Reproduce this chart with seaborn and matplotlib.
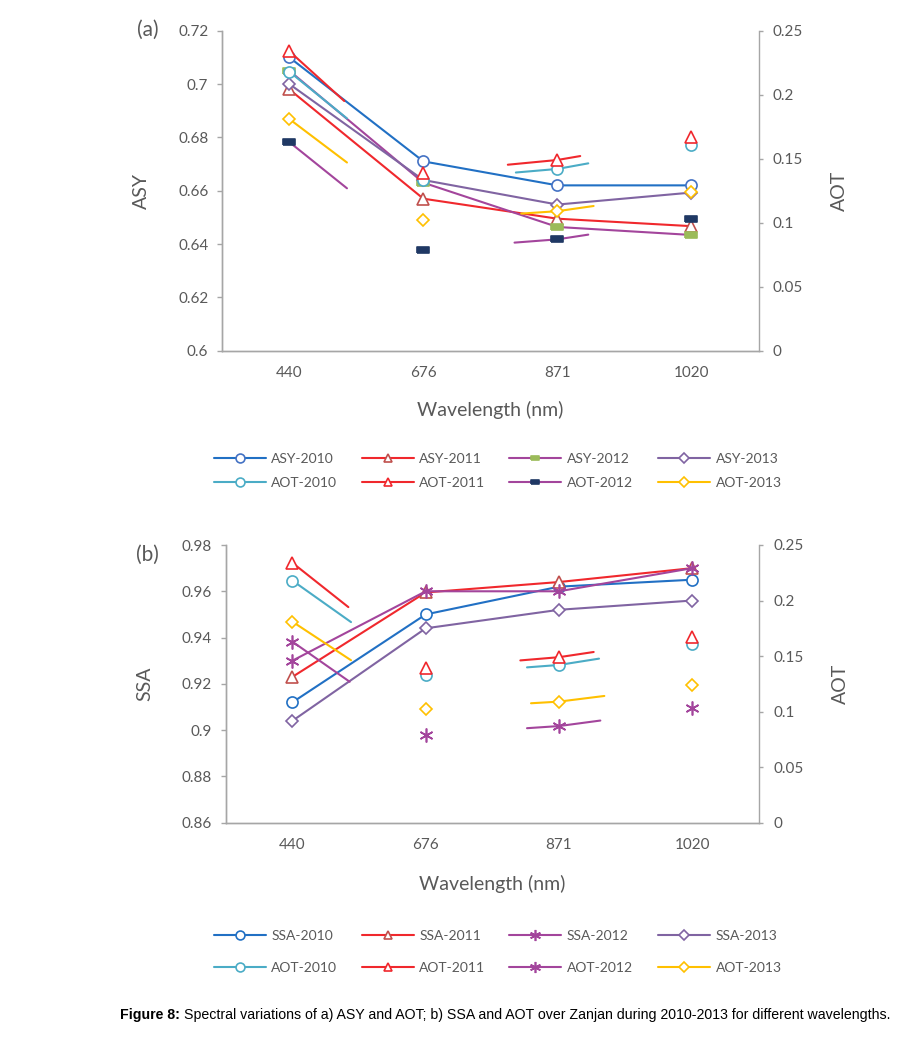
import numpy as np
import matplotlib
matplotlib.use("Agg")
import matplotlib.pyplot as plt
from matplotlib.lines import Line2D
import seaborn as sns

sns.set_style("white")
plt.rcParams['font.family'] = ['Lato', 'DejaVu Sans']

# ---- data ----
wavelengths = ["440", "676", "871", "1020"]

asy_2010 = [0.710, 0.671, 0.662, 0.662]
asy_2011 = [0.698, 0.657, 0.6495, 0.6467]
asy_2012 = [0.705, 0.663, 0.6464, 0.6434]
asy_2013 = [0.700, 0.664, 0.6548, 0.6593]

ssa_2010 = [0.912, 0.950, 0.962, 0.965]
ssa_2011 = [0.923, 0.9595, 0.964, 0.970]
ssa_2012 = [0.930, 0.960, 0.960, 0.970]
ssa_2013 = [0.904, 0.944, 0.952, 0.956]

aot_2010 = [0.218, 0.133, 0.142, 0.161]
aot_2011 = [0.234, 0.139, 0.149, 0.167]
aot_2012 = [0.163, 0.079, 0.087, 0.103]
aot_2013 = [0.181, 0.102, 0.109, 0.124]

left_ticks_a = [0.6, 0.62, 0.64, 0.66, 0.68, 0.7, 0.72]
left_ticks_b = [0.86, 0.88, 0.9, 0.92, 0.94, 0.96, 0.98]
right_ticks = [0, 0.05, 0.1, 0.15, 0.2, 0.25]

# ---- styles ----
BLUE, RED, MAG, PURP = '#2170C4', '#F0282D', '#A3459C', '#8064A2'
CYAN, NAVY, GREEN, YEL, DRED = '#4BACC6', '#1F3864', '#9BBB59', '#FFC000', '#C0504D'
ASTER = (6, 2, 0)
DASH = [(-1, -0.55), (1, -0.55), (1, 0.55), (-1, 0.55), (-1, -0.55)]
GREY = '#A6A6A6'
TXT = '#595959'

sty = {
    'ASY-2010': dict(color=BLUE, marker='o', mec='#4472C4', mfc='white', ms=8),
    'ASY-2011': dict(color=RED, marker='^', mec=DRED, mfc='white', ms=8),
    'ASY-2012': dict(color=MAG, marker=DASH, mec=GREEN, mfc=GREEN, ms=8),
    'ASY-2013': dict(color=PURP, marker='D', mec=PURP, mfc='white', ms=6),
    'SSA-2010': dict(color=BLUE, marker='o', mec=BLUE, mfc='white', ms=8),
    'SSA-2011': dict(color=RED, marker='^', mec=DRED, mfc='white', ms=8),
    'SSA-2012': dict(color=MAG, marker=ASTER, mec=MAG, mfc=MAG, ms=10),
    'SSA-2013': dict(color=PURP, marker='D', mec=PURP, mfc='white', ms=6),
    'AOT-2010': dict(color=CYAN, marker='o', mec=CYAN, mfc='white', ms=8),
    'AOT-2011': dict(color=RED, marker='^', mec=RED, mfc='white', ms=8),
    'AOT-2013': dict(color=YEL, marker='D', mec=YEL, mfc='white', ms=6),
}
sty_aot12_a = dict(color=MAG, marker=DASH, mec=NAVY, mfc=NAVY, ms=8)
sty_aot12_b = dict(color=MAG, marker=ASTER, mec=MAG, mfc=MAG, ms=10)

# visible pieces of the AOT lines: (from index, toward index, fraction)
segs_a = {
    'AOT-2010': [(0, 1, 0.43), (2, 1, 0.31), (2, 3, 0.23)],
    'AOT-2011': [(0, 1, 0.41), (2, 1, 0.37), (2, 3, 0.17)],
    'AOT-2012': [(0, 1, 0.43), (2, 1, 0.32), (2, 3, 0.23)],
    'AOT-2013': [(0, 1, 0.43), (2, 1, 0.27), (2, 3, 0.27)],
}
segs_b = {
    'AOT-2010': [(0, 1, 0.44), (2, 1, 0.24), (2, 3, 0.30)],
    'AOT-2011': [(0, 1, 0.42), (2, 1, 0.29), (2, 3, 0.26)],
    'AOT-2012': [(0, 1, 0.43), (2, 1, 0.24), (2, 3, 0.31)],
    'AOT-2013': [(0, 1, 0.44), (2, 1, 0.21), (2, 3, 0.34)],
}

W, H = 917, 1040


def fmt(v):
    return f"{v:g}"


def draw_panel(ax, main, aot, aot_sty, segs, yticks, ylabel, tag, tag_xy, xpad):
    x = np.arange(len(wavelengths))
    for name, vals in main.items():
        s = sty[name]
        sns.lineplot(x=x, y=vals, ax=ax, color=s['color'], marker=s['marker'],
                     markersize=s['ms'], markeredgecolor=s['mec'],
                     markerfacecolor=s['mfc'], markeredgewidth=1.2, linewidth=1.5,
                     legend=False)
    ax2 = ax.twinx()
    for name, vals in aot.items():
        s = aot_sty[name]
        for i, j, f in segs[name]:
            xs = [x[i], x[i] + f * (x[j] - x[i])]
            ys = [vals[i], vals[i] + f * (vals[j] - vals[i])]
            ax2.plot(xs, ys, color=s['color'], lw=1.5)
        sns.lineplot(x=x, y=vals, ax=ax2, linestyle='None', marker=s['marker'],
                     markersize=s['ms'], markeredgecolor=s['mec'],
                     markerfacecolor=s['mfc'], markeredgewidth=1.2, legend=False)

    ax.set_xlim(-0.5, 3.5)
    ax.set_ylim(yticks[0], yticks[-1])
    ax.set_yticks(yticks, [fmt(v) for v in yticks])
    ax2.set_ylim(0, 0.25)
    ax2.set_yticks(right_ticks, [fmt(v) for v in right_ticks])
    ax.set_xticks(x, wavelengths)
    ax.set_xticks(np.arange(-0.5, 4, 1), minor=True)
    ax.tick_params(axis='x', which='major', length=0, pad=11, labelsize=11, labelcolor=TXT)
    ax.tick_params(axis='x', which='minor', length=3.6, color=GREY, width=1)
    ax.tick_params(axis='y', length=3.6, color=GREY, width=1, labelsize=11, labelcolor=TXT, pad=6.5)
    ax2.tick_params(axis='y', length=3.2, color=GREY, width=1, labelsize=11, labelcolor=TXT, pad=7.2)
    for a in (ax, ax2):
        a.spines['top'].set_visible(False)
        for sp in ('left', 'right', 'bottom'):
            a.spines[sp].set_color(GREY)
            a.spines[sp].set_linewidth(1)
    ax.spines['right'].set_visible(False)
    ax.set_xlabel("Wavelength (nm)", fontsize=14, color=TXT, labelpad=xpad)
    ax.set_ylabel(ylabel, fontsize=14, color=TXT, labelpad=20)
    ax2.set_ylabel("AOT", fontsize=14, color=TXT, labelpad=20)
    fig.text(tag_xy[0] / W, 1 - tag_xy[1] / H, tag, fontsize=15, color=TXT,
             ha='center', va='center')
    ax.grid(False)
    ax2.grid(False)
    return ax2


def handle(s):
    return Line2D([0], [0], color=s['color'], lw=1.5, marker=s['marker'],
                  markersize=s['ms'] * 0.8, markeredgecolor=s['mec'],
                  markerfacecolor=s['mfc'], markeredgewidth=1.2)


def add_legend(fig, names, styles, y_top, spacing):
    xs = [213.5, 361.5, 509, 658]
    for c in range(4):
        hs = [handle(styles[k]) for k in names[c]]
        fig.legend(hs, names[c], loc='upper left',
                   bbox_to_anchor=(xs[c] / W, 1 - y_top / H),
                   frameon=False, fontsize=10, handlelength=3.75, handletextpad=0.4,
                   labelspacing=spacing, borderpad=0, borderaxespad=0, labelcolor=TXT)


fig = plt.figure(figsize=(9.17, 10.4), dpi=100)
ax_a = fig.add_axes([222.3 / W, 1 - 350.7 / H, (758.5 - 222.3) / W, 320 / H])
ax_b = fig.add_axes([225.7 / W, 1 - 822.7 / H, (759 - 225.7) / W, 277.7 / H])

aot_a = {'AOT-2010': aot_2010, 'AOT-2011': aot_2011, 'AOT-2012': aot_2012, 'AOT-2013': aot_2013}
sty_a = dict(sty, **{'AOT-2012': sty_aot12_a})
sty_b = dict(sty, **{'AOT-2012': sty_aot12_b})

draw_panel(ax_a, {'ASY-2010': asy_2010, 'ASY-2011': asy_2011,
                  'ASY-2012': asy_2012, 'ASY-2013': asy_2013},
           aot_a, sty_a, segs_a, left_ticks_a, "ASY", "(a)", (148, 30), 15)
draw_panel(ax_b, {'SSA-2010': ssa_2010, 'SSA-2011': ssa_2011,
                  'SSA-2012': ssa_2012, 'SSA-2013': ssa_2013},
           aot_a, sty_b, segs_b, left_ticks_b, "SSA", "(b)", (147, 555), 16.5)

add_legend(fig, [['ASY-2010', 'AOT-2010'], ['ASY-2011', 'AOT-2011'],
                 ['ASY-2012', 'AOT-2012'], ['ASY-2013', 'AOT-2013']],
           dict(sty_a), 453, 0.84)
add_legend(fig, [['SSA-2010', 'AOT-2010'], ['SSA-2011', 'AOT-2011'],
                 ['SSA-2012', 'AOT-2012'], ['SSA-2013', 'AOT-2013']],
           dict(sty_b), 930, 1.42)

# caption: bold lead-in followed by regular text
fig.canvas.draw()
r = fig.canvas.get_renderer()
t1 = fig.text(120 / W, 1 - 1015 / H, "Figure 8:", fontsize=10.2, fontweight='bold',
              family='Liberation Sans', va='center', color='black')
bb = t1.get_window_extent(renderer=r)
fig.text(bb.x1 / fig.bbox.width + 0.004, 1 - 1015 / H,
         "Spectral variations of a) ASY and AOT; b) SSA and AOT over Zanjan during "
         "2010-2013 for different wavelengths.",
         fontsize=10.2, family='Liberation Sans', va='center', color='black')

fig.savefig("out.png", dpi=100)
